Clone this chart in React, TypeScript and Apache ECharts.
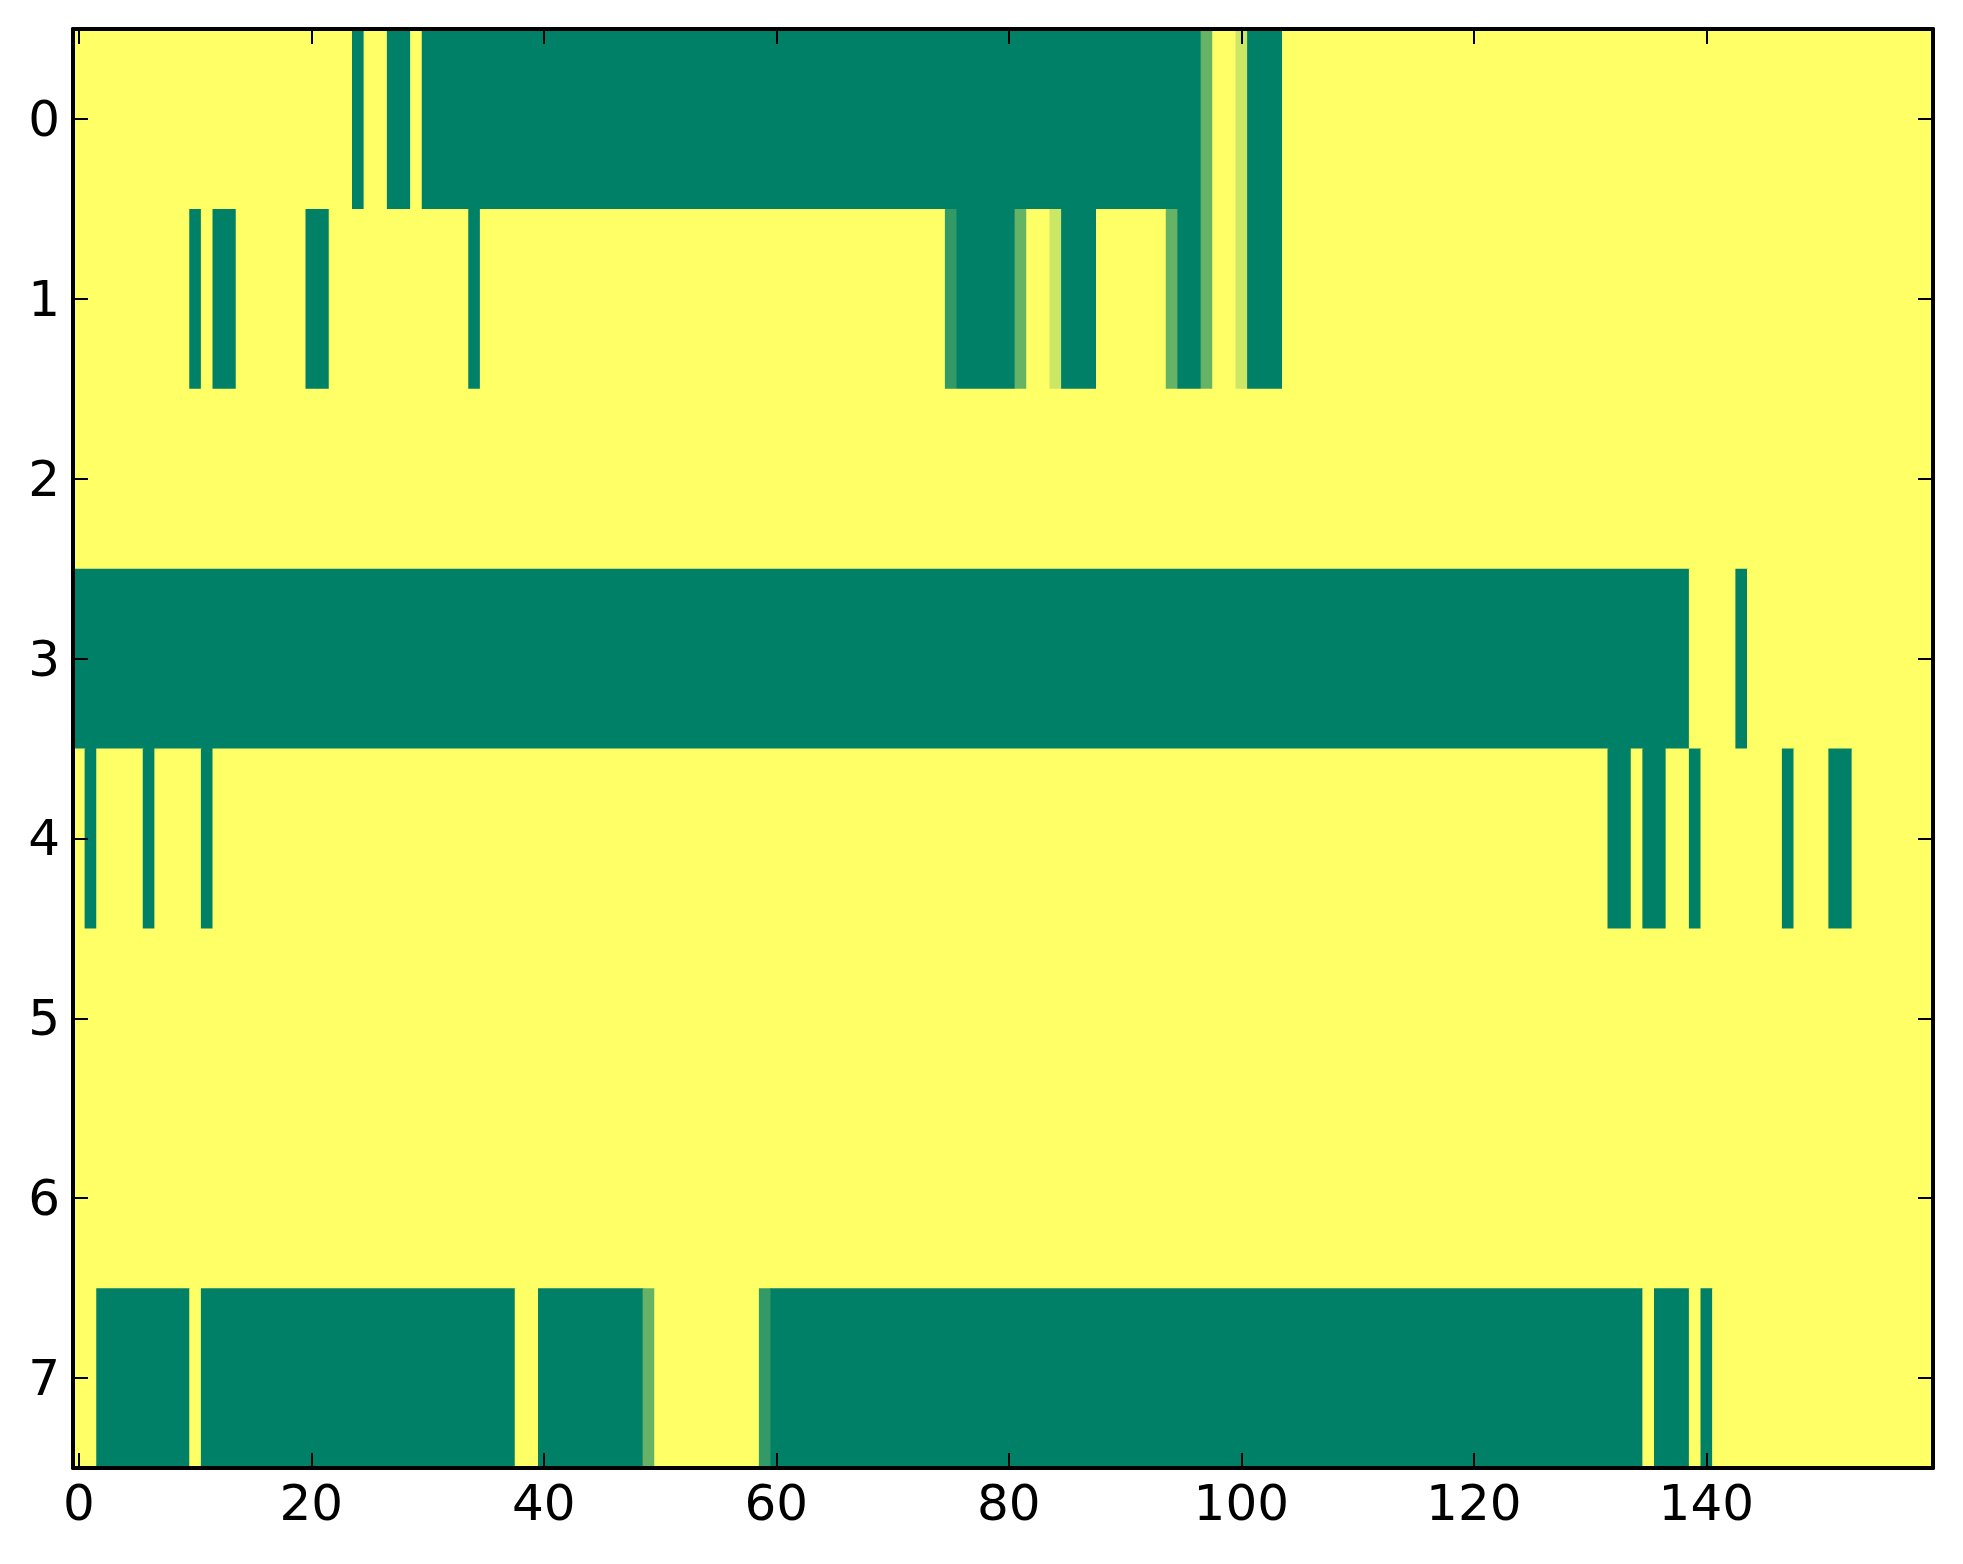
import React, { useEffect, useRef } from "react";
import * as echarts from "echarts";

// Column and row categories
const columns: number[] = Array.from({ length: 160 }, (_, i) => i);
const rows: number[] = [0, 1, 2, 3, 4, 5, 6, 7];

// Each row: runs of [fromCol, toCol, value] covering the whole row
const row0: number[][] = [
  [0, 23, 1], [24, 24, 0], [25, 26, 1], [27, 28, 0], [29, 29, 1], [30, 96, 0],
  [97, 97, 0.4], [98, 99, 1], [100, 100, 0.8], [101, 103, 0], [104, 159, 1],
];
const row1: number[][] = [
  [0, 9, 1], [10, 10, 0], [11, 11, 1], [12, 13, 0], [14, 19, 1], [20, 21, 0],
  [22, 33, 1], [34, 34, 0], [35, 74, 1], [75, 75, 0.2], [76, 80, 0], [81, 81, 0.4],
  [82, 83, 1], [84, 84, 0.8], [85, 87, 0], [88, 93, 1], [94, 94, 0.4], [95, 96, 0],
  [97, 97, 0.4], [98, 99, 1], [100, 100, 0.8], [101, 103, 0], [104, 159, 1],
];
const row2: number[][] = [[0, 159, 1]];
const row3: number[][] = [[0, 138, 0], [139, 142, 1], [143, 143, 0], [144, 159, 1]];
const row4: number[][] = [
  [0, 0, 1], [1, 1, 0], [2, 5, 1], [6, 6, 0], [7, 10, 1], [11, 11, 0], [12, 131, 1],
  [132, 133, 0], [134, 134, 1], [135, 136, 0], [137, 138, 1], [139, 139, 0],
  [140, 146, 1], [147, 147, 0], [148, 150, 1], [151, 152, 0], [153, 159, 1],
];
const row5: number[][] = [[0, 159, 1]];
const row6: number[][] = [[0, 159, 1]];
const row7: number[][] = [
  [0, 1, 1], [2, 9, 0], [10, 10, 1], [11, 37, 0], [38, 39, 1], [40, 48, 0],
  [49, 49, 0.4], [50, 58, 1], [59, 59, 0.2], [60, 134, 0], [135, 135, 1],
  [136, 138, 0], [139, 139, 1], [140, 140, 0], [141, 159, 1],
];
const allRows: number[][][] = [row0, row1, row2, row3, row4, row5, row6, row7];

const xTickStep = 20;

function summer(v: number): string {
  const r = Math.round(255 * v);
  const g = Math.round(255 * (0.5 + 0.5 * v));
  return `rgb(${r},${g},102)`;
}

// series items: [fromCol, row, value, toCol]
function buildRuns(): number[][] {
  const out: number[][] = [];
  allRows.forEach((runs, r) => {
    runs.forEach(([a, b, v]) => out.push([a, r, v, b]));
  });
  return out;
}

export default function App() {
  const ref = useRef<HTMLDivElement>(null);
  useEffect(() => {
    if (!ref.current) return;
    const chart = echarts.init(ref.current, undefined, { renderer: "svg" });
    const font = "DejaVu Sans";
    const tickX = (i: number) => i % xTickStep === 0;
    const lineStyle = { color: "#000", width: 4 };
    const tickStyle = { show: true, inside: true, length: 15, lineStyle: { color: "#000", width: 2 } };
    chart.setOption({
      animation: false,
      backgroundColor: "#fff",
      grid: { left: 73, top: 29, width: 1860, height: 1439, outerBoundsMode: "none", containLabel: false },
      xAxis: [
        {
          type: "category", data: columns, position: "bottom", z: 10,
          axisLine: { show: true, lineStyle },
          axisTick: { ...tickStyle, alignWithLabel: true, interval: (i: number) => tickX(i) },
          axisLabel: { interval: (i: number) => tickX(i), color: "#000", fontSize: 50, fontFamily: font, margin: 10 },
          splitLine: { show: false },
        },
        {
          type: "category", data: columns, position: "top", z: 10,
          axisLine: { show: true, lineStyle },
          axisTick: { ...tickStyle, alignWithLabel: true, interval: (i: number) => tickX(i) },
          axisLabel: { show: false },
          splitLine: { show: false },
        },
      ],
      yAxis: [
        {
          type: "category", data: rows, inverse: true, position: "left", z: 10,
          axisLine: { show: true, lineStyle },
          axisTick: { ...tickStyle, alignWithLabel: true, interval: 0 },
          axisLabel: { interval: 0, color: "#000", fontSize: 50, fontFamily: font, margin: 13 },
          splitLine: { show: false },
        },
        {
          type: "category", data: rows, inverse: true, position: "right", z: 10,
          axisLine: { show: true, lineStyle },
          axisTick: { ...tickStyle, alignWithLabel: true, interval: 0 },
          axisLabel: { show: false },
          splitLine: { show: false },
        },
      ],
      series: [
        {
          type: "custom",
          xAxisIndex: 0,
          yAxisIndex: 0,
          encode: { x: 0, y: 1 },
          data: buildRuns(),
          renderItem: (params: any, api: any) => {
            const a = api.value(0);
            const r = api.value(1);
            const v = api.value(2);
            const b = api.value(3);
            const p0 = api.coord([a, r]);
            const p1 = api.coord([b, r]);
            const s = api.size([1, 1]);
            const x0 = p0[0] - s[0] / 2;
            const x1 = p1[0] + s[0] / 2;
            return {
              type: "rect",
              shape: { x: x0, y: p0[1] - s[1] / 2, width: x1 - x0 + 1, height: s[1] + 1 },
              style: { fill: summer(v) },
            };
          },
        },
      ],
    });
    return () => chart.dispose();
  }, []);
  return (
    <div
      ref={ref}
      style={{ position: "fixed", left: 0, top: 0, width: 1963, height: 1564, background: "#fff" }}
    />
  );
}
